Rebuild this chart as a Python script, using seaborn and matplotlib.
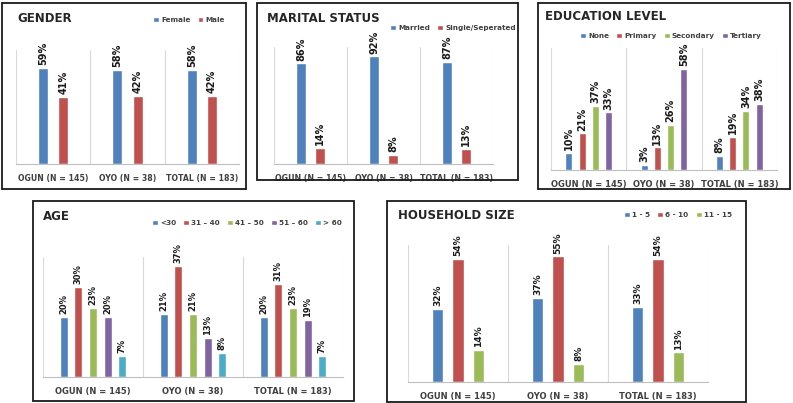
import pandas as pd
import matplotlib.pyplot as plt
import seaborn as sns
from matplotlib.patches import Rectangle

# ---- data ----
groups = ['OGUN (N = 145)', 'OYO (N = 38)', 'TOTAL (N = 183)']

gender_cats = ['Female', 'Male']
gender_vals = [[59, 41], [58, 42], [58, 42]]

marital_cats = ['Married', 'Single/Seperated']
marital_vals = [[86, 14], [92, 8], [87, 13]]

edu_cats = ['None', 'Primary', 'Secondary', 'Tertiary']
edu_vals = [[10, 21, 37, 33], [3, 13, 26, 58], [8, 19, 34, 38]]

age_cats = ['<30', '31 \u2013 40', '41 \u2013 50', '51 \u2013 60', '> 60']
age_vals = [[20, 30, 23, 20, 7], [21, 37, 21, 13, 8], [20, 31, 23, 19, 7]]

house_cats = ['1 - 5', '6 - 10', '11 - 15']
house_vals = [[32, 54, 14], [37, 55, 8], [33, 54, 13]]

# Excel 2010 palette
colors = ['#4F81BD', '#C0504D', '#9BBB59', '#8064A2', '#4BACC6']


def to_long(cats, vals):
    rows = []
    for g, row in zip(groups, vals):
        for c, v in zip(cats, row):
            rows.append({'group': g, 'cat': c, 'value': v})
    return pd.DataFrame(rows)


sns.set_style('white')
plt.rcParams['font.family'] = ['DejaVu Sans']

W, H = 793, 403
fig = plt.figure(figsize=(W / 100, H / 100), dpi=100)


def px_box(x0, y0, x1, y1):
    # pixel box (top-left origin) -> figure fraction [l, b, w, h]
    return [x0 / W, 1 - y1 / H, (x1 - x0) / W, (y1 - y0) / H]


panels = [
    # title, cats, vals, plot box, border, ylim, width, gap, label size, tick size, title pos, legend centre
    ('GENDER', gender_cats, gender_vals, (16, 50, 239, 164), (2, 3, 246, 189),
     70, 0.54, 0.5, 7, 5.6, (17, 19), (189, 20)),
    ('MARITAL STATUS', marital_cats, marital_vals, (274, 47, 493, 164), (257, 3, 518, 180),
     100, 0.52, 0.5, 7, 5.7, (267, 18), (453, 28)),
    ('EDUCATION LEVEL', edu_cats, edu_vals, (551, 48, 777, 170), (538, 3, 790, 189),
     70, 0.70, 0.47, 7, 6, (545, 17), (671, 36)),
    ('AGE', age_cats, age_vals, (43, 257, 343, 377), (33, 201, 354, 401),
     40, 0.73, 0.45, 6, 6, (43, 217), (247, 223)),
    ('HOUSEHOLD SIZE', house_cats, house_vals, (408, 245, 708, 382), (387, 201, 746, 402),
     60, 0.615, 0.46, 6.5, 6, (398, 216), (678, 215)),
]

for (title, cats, vals, box, border, ytop, width, gap, lsize, tsize,
     tpos, lpos) in panels:
    ax = fig.add_axes(px_box(*box))
    df = to_long(cats, vals)
    sns.barplot(data=df, x='group', y='value', hue='cat', hue_order=cats,
                palette=colors[:len(cats)], saturation=1, width=width, gap=gap,
                errorbar=None, legend=True, ax=ax)

    for cont in ax.containers:
        ax.bar_label(cont, labels=[f'{v:.0f}%' for v in cont.datavalues],
                     rotation=90, padding=2, fontsize=lsize,
                     fontweight='bold', color='#1a1a1a')

    ax.set_xlim(-0.5, 2.5)
    ax.set_ylim(0, ytop)
    for xv in [-0.5, 0.5, 1.5, 2.5]:
        ax.axvline(xv, color='#D9D9D9', lw=0.8, zorder=0)
    for s in ['top', 'left', 'right']:
        ax.spines[s].set_visible(False)
    ax.spines['bottom'].set_color('#BFBFBF')
    ax.spines['bottom'].set_linewidth(0.8)
    ax.set_yticks([])
    ax.set_xlabel('')
    ax.set_ylabel('')
    ax.tick_params(axis='x', length=0, pad=7, labelsize=tsize, colors='#404040')
    for t in ax.get_xticklabels():
        t.set_fontweight('bold')

    ax.legend(loc='center', bbox_to_anchor=(lpos[0] / W, 1 - lpos[1] / H),
              bbox_transform=fig.transFigure, ncol=len(cats), frameon=False,
              prop={'size': 5.2, 'weight': 'bold'}, labelcolor='#404040',
              handlelength=0.8, handleheight=0.8, handletextpad=0.3,
              columnspacing=1.0, borderpad=0)

    fig.text(tpos[0] / W, 1 - tpos[1] / H, title, fontsize=8.5,
             fontweight='bold', color='#262626', ha='left', va='center')

    x0, y0, x1, y1 = border
    fig.patches.append(Rectangle((x0 / W, 1 - y1 / H), (x1 - x0) / W, (y1 - y0) / H,
                                 transform=fig.transFigure, fill=False,
                                 edgecolor='#1a1a1a', lw=1.3))

fig.savefig('out.png', dpi=100, facecolor='white')
